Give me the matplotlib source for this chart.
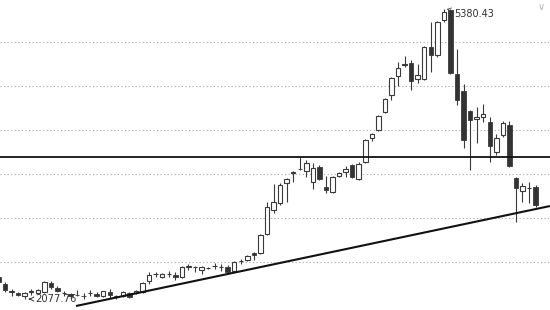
"""
Weekly candlestick chart with support trend line and resistance level.

Produces:
  out.png  — 550x310 candlestick chart
"""

import matplotlib
import matplotlib.pyplot as plt
import numpy as np

matplotlib.use("Agg")

# ── Data ─────────────────────────────────────────────────────────────────────

opens = [
    2330, 2251, 2160, 2149, 2114, 2160, 2149, 2160, 2262, 2205,
    2145, 2137, 2126, 2114, 2143, 2137, 2114, 2160, 2114, 2114,
    2143, 2149, 2160, 2285, 2359, 2330, 2359, 2353, 2330, 2444,
    2438, 2410, 2427, 2450, 2438, 2444, 2398, 2506, 2523, 2603,
    2603, 2819, 3092, 3171, 3398, 3506, 3557, 3534, 3410, 3580,
    3353, 3296, 3478, 3523, 3602, 3444, 3637, 3909, 4000, 4205,
    4398, 4614, 4744, 4761, 4580, 4580, 4943, 4852, 5250, 5363,
    4636, 4443, 4216, 4125, 4148, 4091, 3750, 3943, 4057, 3455,
    3307, 3336, 3353,
]
closes = [
    2273, 2183, 2165, 2126, 2149, 2165, 2183, 2273, 2217, 2171,
    2150, 2114, 2120, 2112, 2149, 2114, 2171, 2126, 2097, 2160,
    2103, 2171, 2262, 2353, 2364, 2364, 2364, 2325, 2444, 2450,
    2444, 2444, 2432, 2455, 2444, 2387, 2501, 2512, 2569, 2575,
    2807, 3126, 3182, 3375, 3444, 3523, 3552, 3625, 3568, 3444,
    3319, 3466, 3512, 3557, 3466, 3614, 3887, 3955, 4159, 4352,
    4591, 4705, 4750, 4557, 4625, 4943, 4852, 5227, 5341, 4648,
    4341, 3887, 4114, 4148, 4182, 3818, 3909, 4080, 3591, 3341,
    3364, 3341, 3148,
]
highs = [
    2353, 2273, 2194, 2160, 2160, 2194, 2194, 2285, 2285, 2228,
    2171, 2149, 2183, 2149, 2183, 2160, 2171, 2194, 2126, 2171,
    2160, 2183, 2273, 2387, 2387, 2376, 2398, 2387, 2455, 2478,
    2455, 2455, 2444, 2489, 2478, 2467, 2512, 2535, 2580, 2610,
    2819, 3182, 3387, 3398, 3455, 3534, 3693, 3659, 3625, 3602,
    3478, 3478, 3523, 3591, 3614, 3637, 3898, 3966, 4171, 4364,
    4602, 4773, 4841, 4795, 4750, 4955, 5227, 5238, 5380.43, 5375,
    4920, 4523, 4227, 4261, 4296, 4148, 3955, 4102, 4102, 3466,
    3398, 3410, 3375,
]
lows = [
    2251, 2160, 2114, 2114, 2077.76, 2126, 2137, 2149, 2194, 2160,
    2114, 2103, 2114, 2080, 2114, 2103, 2103, 2092, 2080, 2103,
    2092, 2137, 2149, 2251, 2330, 2319, 2330, 2296, 2319, 2410,
    2387, 2364, 2421, 2421, 2398, 2376, 2387, 2478, 2512, 2523,
    2592, 2807, 3057, 3148, 3182, 3410, 3546, 3466, 3330, 3432,
    3284, 3284, 3466, 3466, 3455, 3432, 3625, 3875, 3989, 4193,
    4341, 4500, 4716, 4455, 4534, 4568, 4659, 4830, 5227, 4636,
    4284, 3796, 3546, 3853, 4091, 3637, 3716, 3921, 3580, 2955,
    3182, 3171, 3125,
]

grid_levels = [2500, 3000, 3500, 4000, 4500, 5000]
resistance = 3693
trend_x = [11.84, 84.2]
trend_y = [2000, 3136]
peak_label = "5380.43"
low_label = "2077.76"

# ── Visual constants ─────────────────────────────────────────────────────────

UP_FACE = "white"
DOWN_FACE = "#333333"
EDGE = "#3a3a3a"
BODY_W = 0.68

plt.rcParams.update({
    "font.family": "DejaVu Sans",
    "font.size": 7,
})


def draw_candles(ax) -> None:
    x = np.arange(len(opens))
    o = np.array(opens, dtype=float)
    c = np.array(closes, dtype=float)
    h = np.array(highs, dtype=float)
    l = np.array(lows, dtype=float)
    up = c >= o

    ax.vlines(x, l, h, color=EDGE, lw=0.8, zorder=2)
    bottom = np.minimum(o, c)
    height = np.maximum(np.abs(c - o), 4)
    ax.bar(x[up], height[up], BODY_W, bottom=bottom[up],
           facecolor=UP_FACE, edgecolor=EDGE, lw=0.8, zorder=3)
    ax.bar(x[~up], height[~up], BODY_W, bottom=bottom[~up],
           facecolor=DOWN_FACE, edgecolor=EDGE, lw=0.6, zorder=3)


def main() -> None:
    fig = plt.figure(figsize=(5.5, 3.1), dpi=100)
    ax = fig.add_axes([0, 0, 1, 1])

    for g in grid_levels:
        ax.axhline(g, color="#a8a8a8", lw=0.8, ls=(0, (1, 2.2)), zorder=0)

    draw_candles(ax)

    ax.axhline(resistance, color="#111111", lw=1.3, zorder=4)
    ax.plot(trend_x, trend_y, color="#111111", lw=1.5, zorder=4,
            solid_capstyle="butt")

    ax.annotate(peak_label, xy=(68, 5380.43), xytext=(69.6, 5318),
                ha="left", va="center", color="#333333", fontsize=7,
                arrowprops=dict(arrowstyle="->", lw=0.6, color="#555555"),
                zorder=1)
    ax.annotate(low_label, xy=(4.2, 2079), xytext=(5.6, 2079),
                ha="left", va="center", color="#333333", fontsize=7.2,
                arrowprops=dict(arrowstyle="->", lw=0.7, color="#333333"),
                zorder=5)
    ax.text(0.985, 0.995, "\u2228", transform=ax.transAxes, ha="center",
            va="top", fontsize=7, color="#b0b0b0")

    ax.set_xlim(0.237, 84.2)
    ax.set_ylim(1954.5, 5477.3)
    ax.axis("off")

    fig.savefig("out.png", dpi=100, facecolor="white")
    plt.close(fig)


if __name__ == "__main__":
    main()
